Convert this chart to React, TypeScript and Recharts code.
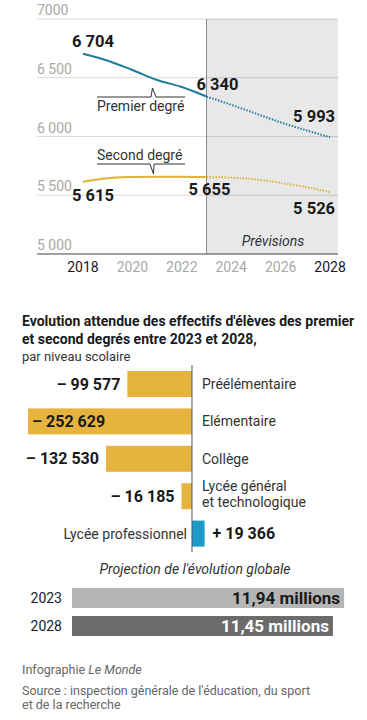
import React from 'react';
import {
  LineChart,
  Line,
  XAxis,
  YAxis,
  CartesianGrid,
  ReferenceArea,
  ReferenceLine,
  BarChart,
  Bar,
} from 'recharts';

// effectifs (milliers d'élèves)
const years = [2018, 2019, 2020, 2021, 2022, 2023, 2024, 2025, 2026, 2027, 2028];
const premierDegre = [6704, 6645, 6566, 6481, 6421, 6340, 6270, 6195, 6120, 6055, 5993];
const secondDegre = [5615, 5645, 5655, 5658, 5657, 5655, 5650, 5635, 5605, 5570, 5526];
const firstForecastYear = 2023;

const yTicks = [5000, 5500, 6000, 6500, 7000];
const yTickLabels = ['5 000', '5 500', '6 000', '6 500', '7000'];
const xTicks = [2018, 2020, 2022, 2024, 2026, 2028];

// variation 2023-2028 par niveau
const niveaux = ['Préélémentaire', 'Elémentaire', 'Collège', 'Lycée général\net technologique', 'Lycée professionnel'];
const variations = [-99577, -252629, -132530, -16185, 19366];

// projection globale (millions)
const globalYears = ['2023', '2028'];
const globalTotals = [11.94, 11.45];

const FONT = 'Roboto, "Noto Sans", sans-serif';
const TEAL = '#1f7a9e';
const GOLD = '#dfb23a';
const BAR_GOLD = '#e6b43e';
const BLUE = '#1a9bc8';

const lineData = years.map((year, i) => ({
  year,
  premierHist: year <= firstForecastYear ? premierDegre[i] : null,
  premierProj: year >= firstForecastYear ? premierDegre[i] : null,
  secondHist: year <= firstForecastYear ? secondDegre[i] : null,
  secondProj: year >= firstForecastYear ? secondDegre[i] : null,
}));

const niveauData = niveaux.map((name, i) => ({ name, value: variations[i] }));
const globalData = globalYears.map((name, i) => ({ name, value: globalTotals[i] }));

const fmt = (v: number) => Math.abs(v).toLocaleString('fr-FR').replace(/\s/g, ' ');
const fmtSigned = (v: number) => (v < 0 ? '– ' : '+ ') + fmt(v);

// where the value labels sit around a point
const premierLabels: Record<number, { dx: number; dy: number; anchor: string }> = {
  2018: { dx: 10, dy: -7, anchor: 'middle' },
  2023: { dx: 11, dy: -7, anchor: 'middle' },
  2028: { dx: 5, dy: -15, anchor: 'end' },
};
const secondLabels: Record<number, { dx: number; dy: number; anchor: string }> = {
  2018: { dx: 10, dy: 19, anchor: 'middle' },
  2023: { dx: 3, dy: 18, anchor: 'middle' },
  2028: { dx: 5, dy: 22, anchor: 'end' },
};

function makeDot(specs: Record<number, { dx: number; dy: number; anchor: string }>) {
  return (props: any) => {
    const { cx, cy, payload, value, index } = props;
    const spec = payload ? specs[payload.year] : undefined;
    if (!spec || value == null || cx == null || cy == null) return <g key={`d-${index}`} />;
    return (
      <text
        key={`d-${index}`}
        x={cx + spec.dx}
        y={cy + spec.dy}
        textAnchor={spec.anchor as any}
        fontFamily={FONT}
        fontWeight={700}
        fontSize={16.5}
        fill="#1a1a1a"
      >
        {fmt(value)}
      </text>
    );
  };
}

function YTick(props: any) {
  const { x, y, payload } = props;
  const i = yTicks.indexOf(payload.value);
  return (
    <text x={x} y={y - 4} textAnchor="start" fontFamily={FONT} fontSize={14} fill="#a8a8a8">
      {yTickLabels[i]}
    </text>
  );
}

function XTick(props: any) {
  const { x, y, payload } = props;
  const strong = payload.value === years[0] || payload.value === years[years.length - 1];
  return (
    <text x={x} y={y} dy="0.71em" textAnchor="middle" fontFamily={FONT} fontSize={14} fill={strong ? '#1a1a1a' : '#a8a8a8'}>
      {payload.value}
    </text>
  );
}

function NiveauBar(props: any) {
  const { x, y, width, height, payload } = props;
  const left = Math.min(x, x + width);
  const right = Math.max(x, x + width);
  const w = right - left;
  const cy = y + height / 2;
  const v = payload.value;
  const lines = String(payload.name).split('\n');
  let valueEl;
  if (v >= 0) {
    valueEl = (
      <text x={right + 8} y={cy + 5.5} textAnchor="start" fontWeight={700} fontSize={16} fill="#1a1a1a">
        {fmtSigned(v)}
      </text>
    );
  } else if (left < 90) {
    valueEl = (
      <text x={left + 4} y={cy + 5.5} textAnchor="start" fontWeight={700} fontSize={16} fill="#1a1a1a">
        {fmtSigned(v)}
      </text>
    );
  } else {
    valueEl = (
      <text x={left - 7} y={cy + 5.5} textAnchor="end" fontWeight={700} fontSize={16} fill="#1a1a1a">
        {fmtSigned(v)}
      </text>
    );
  }
  const labelX = v >= 0 ? left - 5 : right + 10;
  const firstY = cy + 5 - ((lines.length - 1) * 16) / 2 - (lines.length > 1 ? 2 : 0);
  return (
    <g fontFamily={FONT}>
      <rect x={left} y={y} width={w} height={height} fill={v >= 0 ? BLUE : BAR_GOLD} />
      {valueEl}
      <text x={labelX} y={firstY} textAnchor={v >= 0 ? 'end' : 'start'} fontSize={14} fill="#333">
        {lines.map((l, i) => (
          <tspan key={i} x={labelX} dy={i === 0 ? 0 : 16}>
            {l}
          </tspan>
        ))}
      </text>
    </g>
  );
}

function GlobalBar(props: any) {
  const { x, y, width, height, payload, index } = props;
  return (
    <g fontFamily={FONT}>
      <rect x={x} y={y} width={width} height={height} fill={index === 0 ? '#b5b5b5' : '#6b6b6b'} />
      <text x={x + width - 4} y={y + height / 2 + 6} textAnchor="end" fontWeight={700} fontSize={17} fill={index === 0 ? '#1a1a1a' : '#ffffff'}>
        {payload.value.toFixed(2).replace('.', ',')} millions
      </text>
    </g>
  );
}

export default function App() {
  return (
    <div style={{ position: 'absolute', left: 0, top: 0, width: 367, height: 720, background: '#fff', fontFamily: FONT, overflow: 'hidden' }}>
      <div style={{ position: 'absolute', left: 0, top: 0 }}>
        <LineChart width={367} height={280} data={lineData} margin={{ top: 19, right: 29, bottom: 0, left: 0 }}>
          <CartesianGrid vertical={false} stroke="#dadada" />
          <ReferenceArea x1={firstForecastYear} x2={2028.32} y1={5000} y2={7000} fill="#000" fillOpacity={0.09} stroke="none" />
          <ReferenceLine x={firstForecastYear} stroke="#8a8a8a" strokeWidth={1} />
          <XAxis
            dataKey="year"
            type="number"
            domain={[2016.14, 2028.32]}
            ticks={xTicks}
            allowDataOverflow
            height={26}
            tickLine={false}
            tickSize={0}
            tickMargin={8}
            axisLine={{ stroke: '#555', strokeWidth: 1 }}
            tick={<XTick />}
          />
          <YAxis
            type="number"
            domain={[5000, 7000]}
            ticks={yTicks}
            width={37}
            axisLine={false}
            tickLine={false}
            tickSize={0}
            tickMargin={0}
            interval={0}
            tick={<YTick />}
          />
          <Line dataKey="premierHist" type="monotone" stroke={TEAL} strokeWidth={2} dot={makeDot({ 2018: premierLabels[2018], 2023: premierLabels[2023] })} activeDot={false} isAnimationActive={false} />
          <Line dataKey="premierProj" type="monotone" stroke={TEAL} strokeWidth={2} strokeDasharray="1.5 1.5" dot={makeDot({ 2028: premierLabels[2028] })} activeDot={false} isAnimationActive={false} />
          <Line dataKey="secondHist" type="monotone" stroke={GOLD} strokeWidth={2} dot={makeDot({ 2018: secondLabels[2018], 2023: secondLabels[2023] })} activeDot={false} isAnimationActive={false} />
          <Line dataKey="secondProj" type="monotone" stroke={GOLD} strokeWidth={2} strokeDasharray="1.5 1.5" dot={makeDot({ 2028: secondLabels[2028] })} activeDot={false} isAnimationActive={false} />
        </LineChart>
        <svg width={367} height={280} style={{ position: 'absolute', left: 0, top: 0, pointerEvents: 'none' }} fontFamily={FONT}>
          <polyline points="97,97 151,97 152.5,88 156,97 185,97" fill="none" stroke="#333" strokeWidth={1} />
          <text x={97} y={111} fontSize={14} fill="#333">Premier degré</text>
          <text x={97} y={160} fontSize={14} fill="#333">Second degré</text>
          <polyline points="97,164 150,164 153.5,174 154,164 185,164" fill="none" stroke="#333" strokeWidth={1} />
          <text x={273} y={246} fontSize={14} fontStyle="italic" fill="#333" textAnchor="middle">Prévisions</text>
        </svg>
      </div>

      <div style={{ position: 'absolute', left: 22, top: 312, width: 345, fontSize: 14, fontWeight: 700, lineHeight: '18px', color: '#1a1a1a', whiteSpace: 'nowrap' }}>
        Evolution attendue des effectifs d'élèves des premier
        <br />
        et second degrés entre 2023 et 2028,
      </div>
      <div style={{ position: 'absolute', left: 22, top: 349, fontSize: 13, lineHeight: '16px', color: '#333' }}>par niveau scolaire</div>

      <div style={{ position: 'absolute', left: 0, top: 355 }}>
        <BarChart width={367} height={205} layout="vertical" data={niveauData} margin={{ top: 10, right: 20, bottom: 8, left: 20 }} barSize={26}>
          <XAxis type="number" domain={[-265000, 238830]} hide allowDataOverflow />
          <YAxis type="category" dataKey="name" hide />
          <Bar dataKey="value" shape={<NiveauBar />} isAnimationActive={false} />
          <ReferenceLine x={0} stroke="#555" strokeWidth={1} />
        </BarChart>
      </div>

      <div style={{ position: 'absolute', left: 0, top: 561, width: 390, textAlign: 'center', fontSize: 14, fontStyle: 'italic', color: '#333' }}>
        Projection de l'évolution globale
      </div>

      <div style={{ position: 'absolute', left: 0, top: 580 }}>
        <BarChart width={367} height={64} layout="vertical" data={globalData} margin={{ top: 4, right: 17, bottom: 4, left: 0 }} barSize={20}>
          <XAxis type="number" domain={[0, 12.2]} hide allowDataOverflow />
          <YAxis
            type="category"
            dataKey="name"
            width={72}
            axisLine={false}
            tickLine={false}
            tickSize={6}
            tickMargin={4}
            tick={{ fontFamily: FONT, fontSize: 14, fill: '#222' }}
          />
          <Bar dataKey="value" shape={<GlobalBar />} isAnimationActive={false} />
        </BarChart>
      </div>

      <div style={{ position: 'absolute', left: 22, top: 662, fontSize: 12.5, color: '#666', lineHeight: '15px' }}>
        Infographie <i>Le Monde</i>
      </div>
      <div style={{ position: 'absolute', left: 22, top: 684, width: 320, fontSize: 12.5, color: '#666', lineHeight: '14px' }}>
        Source : inspection générale de l'éducation, du sport
        <br />
        et de la recherche
      </div>
    </div>
  );
}
